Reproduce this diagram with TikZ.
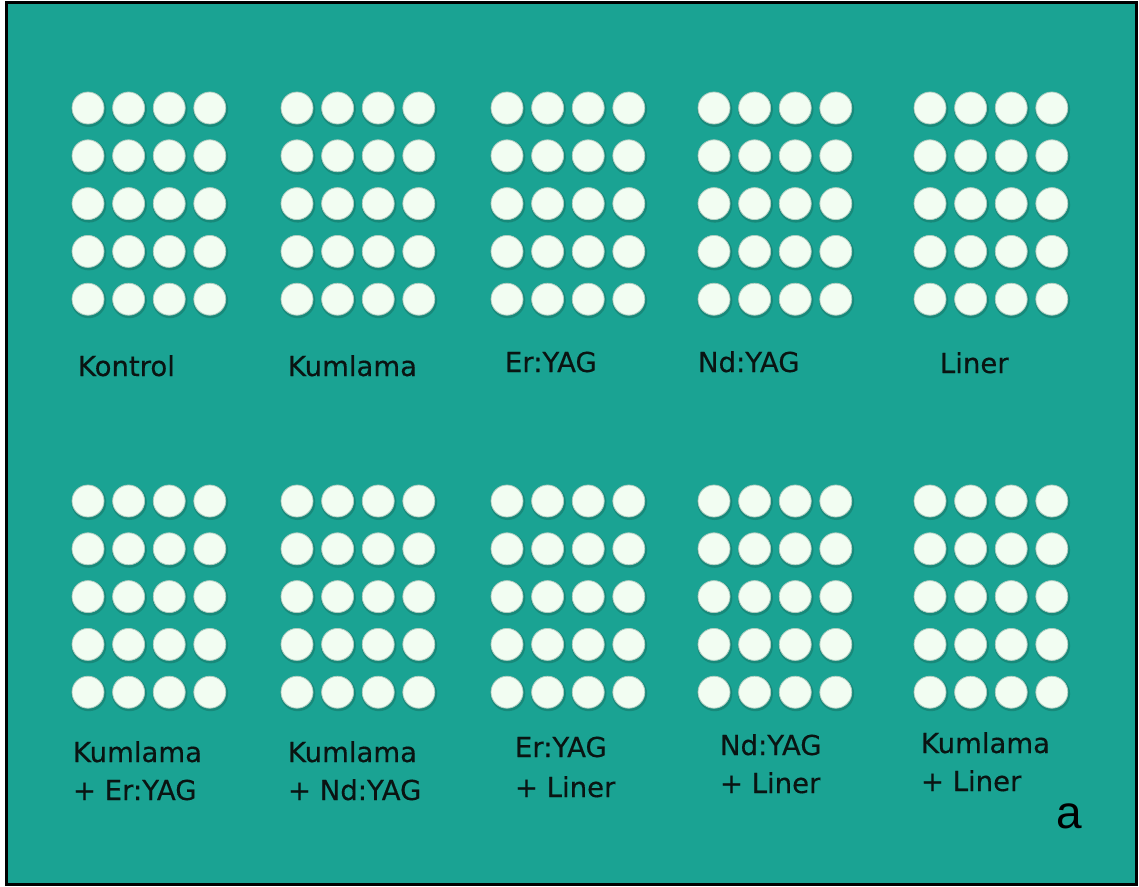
\documentclass[tikz,border=0pt]{standalone}
\usepackage{fontspec}
\setmainfont{DejaVu Sans}[FakeBold=0.35]
\newfontfamily\arialfont{Liberation Sans}
\definecolor{bgteal}{RGB}{26,163,147}
\definecolor{dotfill}{RGB}{242,253,242}
\definecolor{dotshade}{RGB}{18,90,76}
\definecolor{txt}{RGB}{10,20,18}
\begin{document}
\begin{tikzpicture}[x=1pt,y=-1pt,
  lbl/.style={anchor=base west,inner sep=0pt,outer sep=0pt,text=txt,font=\fontsize{27.5}{38}\selectfont},
  dot/.style={circle,fill=dotfill,minimum size=32pt,inner sep=0pt,draw=dotshade!30!dotfill,line width=0.8pt},
  dotshadow/.style={fill=dotshade,opacity=0.35}]
\useasboundingbox (0,0) rectangle (1139,886);
\fill[white] (0,0) rectangle (1139,886);
\fill[bgteal] (6,2) rectangle (1136,884);
\draw[black,line width=3pt] (6,2) rectangle (1136,884);
% dot grids
\foreach \gx [count=\g] in {88,297,507,714,930}{
  \foreach \ry [count=\r] in {108,501}{
    \foreach \i in {0,...,3}{
      \foreach \j in {0,...,4}{
        \fill[dotshadow] (\gx+40.6*\i+0.8,\ry+47.8*\j+1.5) circle (17.5);
        \node[dot] (d-\r-\g-\i-\j) at (\gx+40.6*\i,\ry+47.8*\j) {};
      }
    }
  }
}
% top labels
\node[lbl] (l1) at (78,376) {Kontrol};
\node[lbl] (l2) at (288,376) {Kumlama};
\node[lbl] (l3) at (505,372) {Er:YAG};
\node[lbl] (l4) at (698,372) {Nd:YAG};
\node[lbl] (l5) at (940,373) {Liner};
% bottom labels
\node[lbl] (l6a) at (73,762) {Kumlama};
\node[lbl] (l6b) at (73,800) {+ Er:YAG};
\node[lbl] (l7a) at (288,762) {Kumlama};
\node[lbl] (l7b) at (288,800) {+ Nd:YAG};
\node[lbl] (l8a) at (515,757) {Er:YAG};
\node[lbl] (l8b) at (515,797) {+ Liner};
\node[lbl] (l9a) at (720,755) {Nd:YAG};
\node[lbl] (l9b) at (720,793) {+ Liner};
\node[lbl] (l10a) at (921,753) {Kumlama};
\node[lbl] (l10b) at (921,791) {+ Liner};
\node[anchor=base west,inner sep=0pt,text=black,font=\arialfont\fontsize{46}{50}\selectfont] (tag) at (1056,828) {a};
\end{tikzpicture}
\end{document}
